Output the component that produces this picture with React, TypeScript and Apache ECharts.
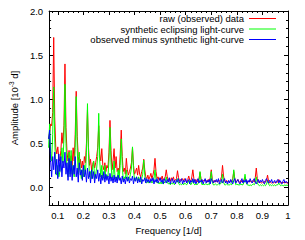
import { useEffect, useRef } from 'react';
import * as echarts from 'echarts';

// frequency grid [1/d]: first sample and spacing
const FREQ_START = 0.064;
const FREQ_STEP = 0.004;

const SERIES_NAMES = [
  'raw (observed) data',
  'synthetic eclipsing light-curve',
  'observed minus synthetic light-curve',
];

// amplitude [10^-3 d], rows of 11 samples (0.044 1/d each)
const rawData = [
  0.55, 0.62, 0.72, 0.70, 0.85, 1.70, 0.80, 0.45, 0.38, 0.46, 0.33,
  0.30, 0.42, 0.62, 0.50, 0.70, 1.40, 0.68, 0.40, 0.30, 0.42, 0.28,
  0.36, 0.25, 0.45, 0.30, 0.60, 1.09, 0.58, 0.35, 0.25, 0.32, 0.22,
  0.30, 0.20, 0.35, 0.28, 0.50, 0.88, 0.45, 0.25, 0.32, 0.20, 0.26,
  0.30, 0.22, 0.28, 0.35, 0.45, 0.70, 0.38, 0.30, 0.44, 0.25, 0.20,
  0.28, 0.18, 0.25, 0.22, 0.40, 0.76, 0.42, 0.20, 0.30, 0.44, 0.22,
  0.35, 0.18, 0.22, 0.16, 0.38, 0.65, 0.35, 0.18, 0.22, 0.15, 0.33,
  0.20, 0.14, 0.18, 0.22, 0.28, 0.45, 0.25, 0.15, 0.18, 0.22, 0.14,
  0.25, 0.15, 0.12, 0.18, 0.22, 0.32, 0.20, 0.12, 0.10, 0.14, 0.09,
  0.12, 0.16, 0.10, 0.14, 0.20, 0.33, 0.18, 0.10, 0.12, 0.08, 0.11,
  0.09, 0.13, 0.08, 0.10, 0.12, 0.20, 0.12, 0.08, 0.10, 0.07, 0.11,
  0.08, 0.12, 0.07, 0.09, 0.10, 0.19, 0.11, 0.07, 0.09, 0.08, 0.10,
  0.07, 0.10, 0.08, 0.06, 0.09, 0.13, 0.08, 0.07, 0.12, 0.20, 0.10,
  0.07, 0.09, 0.06, 0.08, 0.10, 0.17, 0.10, 0.06, 0.08, 0.07, 0.09,
  0.08, 0.06, 0.09, 0.07, 0.11, 0.20, 0.09, 0.07, 0.06, 0.08, 0.07,
  0.06, 0.08, 0.07, 0.09, 0.12, 0.25, 0.13, 0.07, 0.06, 0.08, 0.06,
  0.07, 0.06, 0.08, 0.07, 0.10, 0.18, 0.10, 0.06, 0.07, 0.09, 0.06,
  0.06, 0.08, 0.06, 0.07, 0.09, 0.12, 0.08, 0.06, 0.07, 0.06, 0.08,
  0.06, 0.07, 0.08, 0.06, 0.11, 0.22, 0.10, 0.06, 0.07, 0.06, 0.05,
  0.06, 0.05, 0.07, 0.06, 0.08, 0.14, 0.07, 0.05, 0.06, 0.05, 0.06,
  0.05, 0.06, 0.05, 0.07, 0.06, 0.09, 0.06, 0.05, 0.06, 0.05, 0.06,
  0.05, 0.06, 0.05, 0.05,
];

const syntheticData = [
  0.45, 0.72, 0.40, 0.30, 0.60, 1.14, 0.55, 0.18, 0.14, 0.25, 0.12,
  0.18, 0.30, 0.45, 0.28, 0.55, 1.17, 0.50, 0.20, 0.12, 0.40, 0.15,
  0.42, 0.15, 0.25, 0.12, 0.45, 1.03, 0.42, 0.15, 0.40, 0.18, 0.10,
  0.20, 0.12, 0.25, 0.15, 0.40, 0.95, 0.38, 0.12, 0.18, 0.10, 0.22,
  0.30, 0.10, 0.15, 0.22, 0.35, 0.84, 0.30, 0.12, 0.25, 0.10, 0.12,
  0.25, 0.10, 0.14, 0.12, 0.30, 0.68, 0.28, 0.10, 0.15, 0.30, 0.10,
  0.12, 0.08, 0.20, 0.10, 0.25, 0.55, 0.25, 0.08, 0.12, 0.10, 0.20,
  0.10, 0.08, 0.10, 0.15, 0.22, 0.46, 0.20, 0.08, 0.10, 0.12, 0.07,
  0.12, 0.08, 0.06, 0.10, 0.15, 0.31, 0.14, 0.06, 0.05, 0.08, 0.05,
  0.06, 0.08, 0.05, 0.07, 0.10, 0.20, 0.09, 0.05, 0.06, 0.04, 0.06,
  0.04, 0.07, 0.04, 0.05, 0.07, 0.12, 0.06, 0.04, 0.05, 0.03, 0.05,
  0.04, 0.06, 0.03, 0.05, 0.06, 0.10, 0.05, 0.03, 0.04, 0.03, 0.05,
  0.03, 0.05, 0.04, 0.03, 0.05, 0.08, 0.05, 0.03, 0.05, 0.09, 0.04,
  0.03, 0.04, 0.03, 0.04, 0.07, 0.18, 0.07, 0.03, 0.04, 0.03, 0.04,
  0.04, 0.03, 0.04, 0.03, 0.07, 0.18, 0.06, 0.03, 0.03, 0.04, 0.03,
  0.03, 0.04, 0.03, 0.04, 0.06, 0.15, 0.06, 0.03, 0.03, 0.04, 0.03,
  0.03, 0.03, 0.04, 0.03, 0.08, 0.20, 0.08, 0.03, 0.04, 0.03, 0.03,
  0.03, 0.04, 0.03, 0.03, 0.06, 0.15, 0.06, 0.03, 0.03, 0.02, 0.03,
  0.02, 0.03, 0.04, 0.03, 0.05, 0.12, 0.05, 0.03, 0.02, 0.03, 0.02,
  0.03, 0.02, 0.03, 0.02, 0.04, 0.08, 0.04, 0.02, 0.03, 0.02, 0.03,
  0.02, 0.03, 0.02, 0.03, 0.03, 0.05, 0.03, 0.02, 0.03, 0.02, 0.02,
  0.03, 0.02, 0.03, 0.02,
];

const residualData = [
  0.55, 0.65, 0.30, 0.12, 0.35, 0.20, 0.40, 0.15, 0.32, 0.10, 0.38,
  0.18, 0.35, 0.12, 0.30, 0.22, 0.40, 0.15, 0.28, 0.08, 0.33, 0.12,
  0.30, 0.08, 0.25, 0.15, 0.35, 0.12, 0.22, 0.06, 0.28, 0.14, 0.20,
  0.08, 0.25, 0.12, 0.20, 0.06, 0.22, 0.10, 0.18, 0.05, 0.20, 0.10,
  0.18, 0.05, 0.15, 0.10, 0.20, 0.07, 0.16, 0.04, 0.14, 0.08, 0.18,
  0.06, 0.15, 0.08, 0.13, 0.04, 0.16, 0.07, 0.12, 0.05, 0.14, 0.06,
  0.12, 0.05, 0.14, 0.08, 0.11, 0.04, 0.13, 0.06, 0.10, 0.04, 0.12,
  0.07, 0.12, 0.05, 0.10, 0.08, 0.13, 0.04, 0.11, 0.07, 0.12, 0.05,
  0.10, 0.06, 0.12, 0.04, 0.09, 0.07, 0.11, 0.05, 0.10, 0.06, 0.09,
  0.05, 0.10, 0.07, 0.11, 0.04, 0.09, 0.06, 0.10, 0.05, 0.08, 0.11,
  0.06, 0.09, 0.04, 0.10, 0.07, 0.05, 0.09, 0.06, 0.11, 0.04, 0.08,
  0.10, 0.05, 0.08, 0.04, 0.09, 0.06, 0.10, 0.05, 0.07, 0.10, 0.04,
  0.08, 0.06, 0.10, 0.05, 0.07, 0.09, 0.04, 0.08, 0.06, 0.10, 0.05,
  0.09, 0.04, 0.07, 0.10, 0.05, 0.08, 0.06, 0.09, 0.04, 0.07, 0.10,
  0.05, 0.08, 0.06, 0.09, 0.04, 0.10, 0.07, 0.05, 0.08, 0.06, 0.09,
  0.06, 0.10, 0.04, 0.07, 0.09, 0.05, 0.08, 0.10, 0.05, 0.07, 0.04,
  0.08, 0.05, 0.09, 0.06, 0.04, 0.08, 0.10, 0.05, 0.07, 0.09, 0.06,
  0.04, 0.07, 0.10, 0.05, 0.08, 0.06, 0.09, 0.04, 0.08, 0.06, 0.10,
  0.07, 0.05, 0.08, 0.10, 0.06, 0.04, 0.07, 0.09, 0.05, 0.08, 0.06,
  0.09, 0.06, 0.04, 0.08, 0.10, 0.07, 0.05, 0.08, 0.06, 0.09, 0.05,
  0.06, 0.08, 0.05, 0.07, 0.09, 0.05, 0.08, 0.06, 0.04, 0.07, 0.09,
  0.05, 0.07, 0.06, 0.05,
];

const X_MIN = 0.066;
const X_MAX = 1.0;
const Y_MIN = -0.2;
const Y_MAX = 2.0;

const FONT = "'Liberation Sans', Arial, Helvetica, sans-serif";

export default function App() {
  const ref = useRef<HTMLDivElement>(null);

  useEffect(() => {
    if (!ref.current) return;
    const chart = echarts.init(ref.current, undefined, { renderer: 'svg' });

    const freqs = rawData.map((_, i) => +(FREQ_START + i * FREQ_STEP).toFixed(4));
    const pairs = (vals: number[]) => vals.map((v, i) => [freqs[i], v]);

    const tickStyle = { inside: true, length: 4, lineStyle: { color: '#000', width: 1 } };
    const minorStyle = { show: true, splitNumber: 5, length: 2, lineStyle: { color: '#000', width: 1 } };
    const lineAxis = { show: true, onZero: false, lineStyle: { color: '#000', width: 1 } };

    const xFmt = (v: number) => (Math.abs(v - 1) < 1e-9 ? '1' : v.toFixed(1));
    const baseX = {
      type: 'value' as const,
      min: X_MIN,
      max: X_MAX,
      splitNumber: 10,
      axisLine: lineAxis,
      axisTick: tickStyle,
      minorTick: minorStyle,
      splitLine: { show: false },
    };
    const baseY = {
      type: 'value' as const,
      min: Y_MIN,
      max: Y_MAX,
      splitNumber: 5,
      axisLine: lineAxis,
      axisTick: tickStyle,
      minorTick: minorStyle,
      splitLine: { show: false },
    };

    chart.setOption({
      animation: false,
      backgroundColor: '#fff',
      grid: { left: 41, right: 17, top: 11, bottom: 31, containLabel: false },
      legend: {
        orient: 'vertical',
        align: 'right',
        right: 29,
        top: 13.5,
        itemWidth: 27,
        itemHeight: 1,
        itemGap: 0.5,
        icon: 'rect',
        padding: 0,
        textStyle: { fontFamily: FONT, fontSize: 9.5, color: '#000' },
        data: SERIES_NAMES,
      },
      xAxis: [
        {
          ...baseX,
          position: 'bottom',
          name: 'Frequency [1/d]',
          nameLocation: 'middle',
          nameGap: 18.5,
          nameTextStyle: { fontFamily: FONT, fontSize: 9.5, color: '#000' },
          axisLabel: {
            showMinLabel: false,
            margin: 5,
            fontFamily: FONT,
            fontSize: 9.5,
            color: '#000',
            formatter: xFmt,
          },
        },
        {
          ...baseX,
          position: 'top',
          axisLabel: { show: false },
        },
      ],
      yAxis: [
        {
          ...baseY,
          position: 'left',
          name: '{a|Amplitude [10}{s|-3}{a| d]}',
          nameLocation: 'middle',
          nameGap: 28,
          nameTextStyle: {
            fontFamily: FONT,
            fontSize: 9.5,
            color: '#000',
            rich: {
              a: { fontFamily: FONT, fontSize: 9.5, color: '#000', lineHeight: 12 },
              s: { fontFamily: FONT, fontSize: 6.5, color: '#000', lineHeight: 7, verticalAlign: 'top' },
            },
          },
          axisLabel: {
            showMinLabel: false,
            margin: 6,
            fontFamily: FONT,
            fontSize: 9.5,
            color: '#000',
            formatter: (v: number) => v.toFixed(1),
          },
        },
        {
          ...baseY,
          position: 'right',
          axisLabel: { show: false },
        },
      ],
      series: [
        {
          name: SERIES_NAMES[0],
          type: 'line',
          data: pairs(rawData),
          symbol: 'none',
          clip: true,
          color: '#ff0000',
          lineStyle: { width: 1, color: '#ff0000' },
        },
        {
          name: SERIES_NAMES[1],
          type: 'line',
          data: pairs(syntheticData),
          symbol: 'none',
          clip: true,
          color: '#00ff00',
          lineStyle: { width: 1, color: '#00ff00' },
        },
        {
          name: SERIES_NAMES[2],
          type: 'line',
          data: pairs(residualData),
          symbol: 'none',
          clip: true,
          color: '#0000ff',
          lineStyle: { width: 1, color: '#0000ff' },
        },
      ],
    });

    return () => chart.dispose();
  }, []);

  return (
    <div
      ref={ref}
      style={{ position: 'fixed', left: 0, top: 0, width: 305, height: 240, background: '#fff' }}
    />
  );
}
